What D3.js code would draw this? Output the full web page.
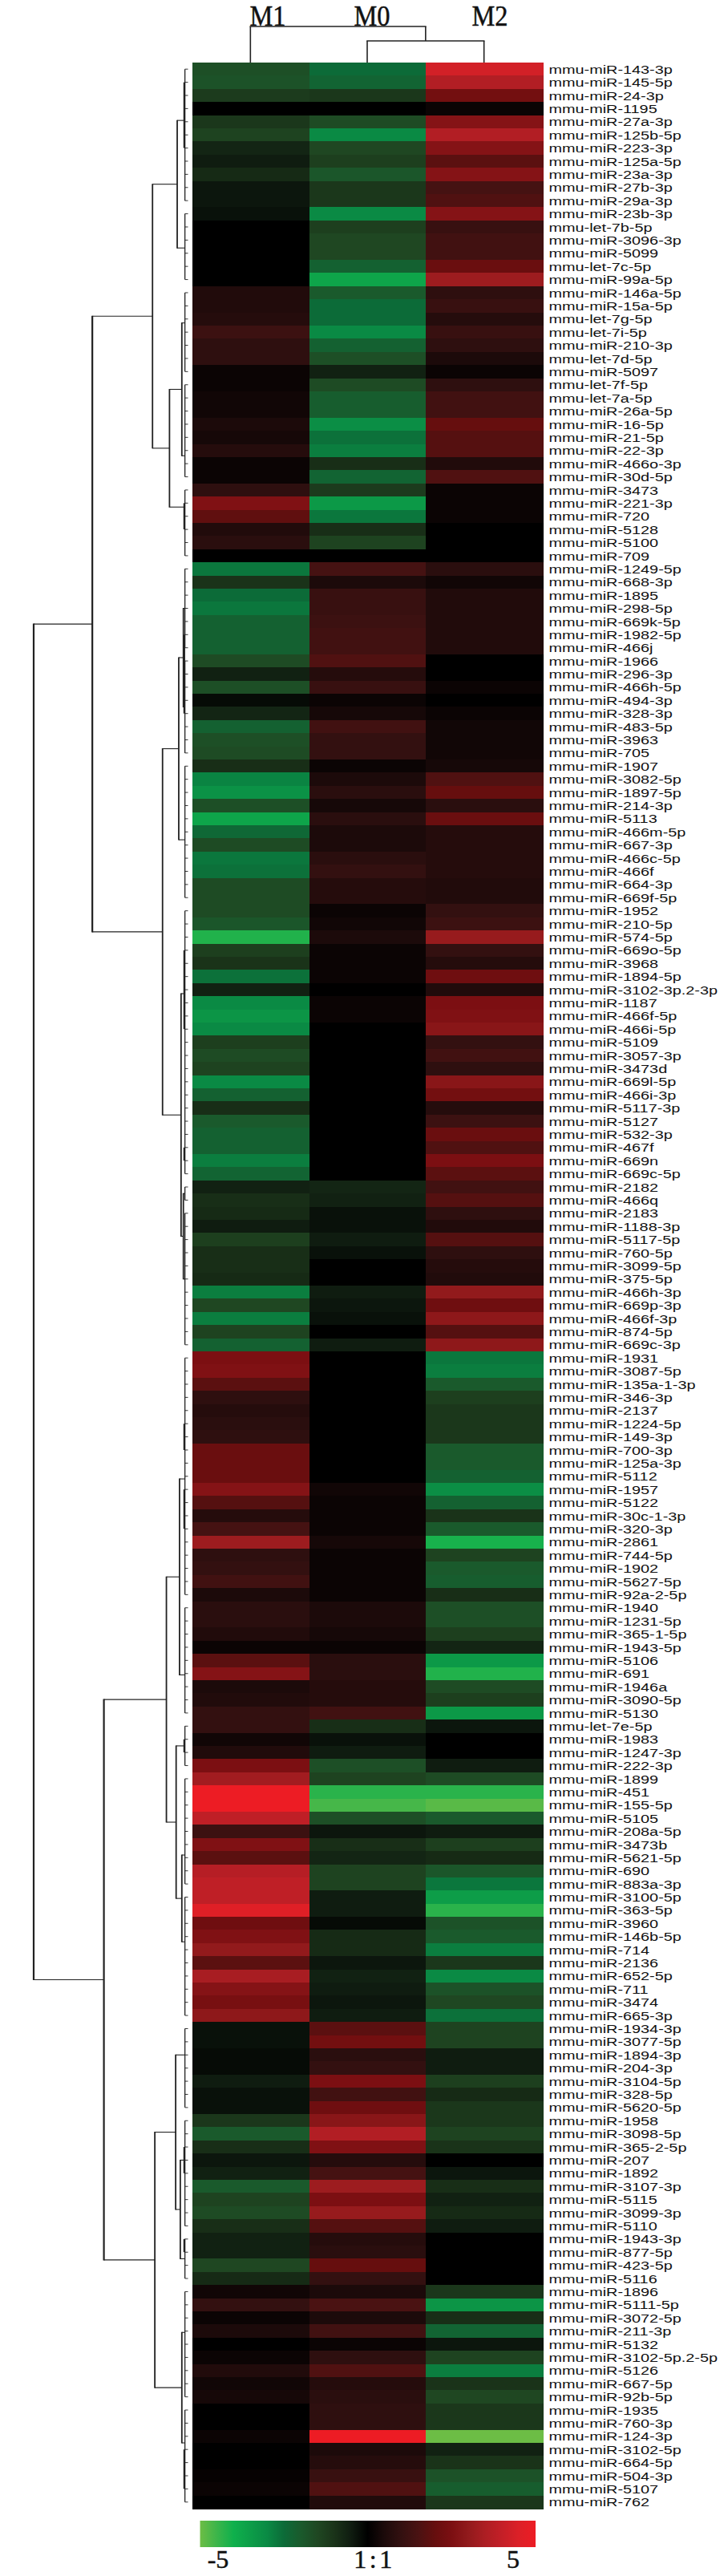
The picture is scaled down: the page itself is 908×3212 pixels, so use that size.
<!DOCTYPE html>
<html>
<head>
<meta charset="utf-8">
<script src="https://cdn.jsdelivr.net/npm/d3@7"></script>
<style>html,body{margin:0;padding:0;background:#fff}svg{display:block}</style>
</head>
<body>
<div id="chart"></div>
<script>
const mirs = ["miR-143-3p","miR-145-5p","miR-24-3p","miR-1195","miR-27a-3p","miR-125b-5p","miR-223-3p","miR-125a-5p","miR-23a-3p","miR-27b-3p","miR-29a-3p","miR-23b-3p","let-7b-5p","miR-3096-3p","miR-5099","let-7c-5p","miR-99a-5p","miR-146a-5p","miR-15a-5p","let-7g-5p","let-7i-5p","miR-210-3p","let-7d-5p","miR-5097","let-7f-5p","let-7a-5p","miR-26a-5p","miR-16-5p","miR-21-5p","miR-22-3p","miR-466o-3p","miR-30d-5p","miR-3473","miR-221-3p","miR-720","miR-5128","miR-5100","miR-709","miR-1249-5p","miR-668-3p","miR-1895","miR-298-5p","miR-669k-5p","miR-1982-5p","miR-466j","miR-1966","miR-296-3p","miR-466h-5p","miR-494-3p","miR-328-3p","miR-483-5p","miR-3963","miR-705","miR-1907","miR-3082-5p","miR-1897-5p","miR-214-3p","miR-5113","miR-466m-5p","miR-667-3p","miR-466c-5p","miR-466f","miR-664-3p","miR-669f-5p","miR-1952","miR-210-5p","miR-574-5p","miR-669o-5p","miR-3968","miR-1894-5p","miR-3102-3p.2-3p","miR-1187","miR-466f-5p","miR-466i-5p","miR-5109","miR-3057-3p","miR-3473d","miR-669l-5p","miR-466i-3p","miR-5117-3p","miR-5127","miR-532-3p","miR-467f","miR-669n","miR-669c-5p","miR-2182","miR-466q","miR-2183","miR-1188-3p","miR-5117-5p","miR-760-5p","miR-3099-5p","miR-375-5p","miR-466h-3p","miR-669p-3p","miR-466f-3p","miR-874-5p","miR-669c-3p","miR-1931","miR-3087-5p","miR-135a-1-3p","miR-346-3p","miR-2137","miR-1224-5p","miR-149-3p","miR-700-3p","miR-125a-3p","miR-5112","miR-1957","miR-5122","miR-30c-1-3p","miR-320-3p","miR-2861","miR-744-5p","miR-1902","miR-5627-5p","miR-92a-2-5p","miR-1940","miR-1231-5p","miR-365-1-5p","miR-1943-5p","miR-5106","miR-691","miR-1946a","miR-3090-5p","miR-5130","let-7e-5p","miR-1983","miR-1247-3p","miR-222-3p","miR-1899","miR-451","miR-155-5p","miR-5105","miR-208a-5p","miR-3473b","miR-5621-5p","miR-690","miR-883a-3p","miR-3100-5p","miR-363-5p","miR-3960","miR-146b-5p","miR-714","miR-2136","miR-652-5p","miR-711","miR-3474","miR-665-3p","miR-1934-3p","miR-3077-5p","miR-1894-3p","miR-204-3p","miR-3104-5p","miR-328-5p","miR-5620-5p","miR-1958","miR-3098-5p","miR-365-2-5p","miR-207","miR-1892","miR-3107-3p","miR-5115","miR-3099-3p","miR-5110","miR-1943-3p","miR-877-5p","miR-423-5p","miR-5116","miR-1896","miR-5111-5p","miR-3072-5p","miR-211-3p","miR-5132","miR-3102-5p.2-5p","miR-5126","miR-667-5p","miR-92b-5p","miR-1935","miR-760-3p","miR-124-3p","miR-3102-5p","miR-664-5p","miR-504-3p","miR-5107","miR-762"];

const M1 = [-1.7,-1.8,-1.2,0,-1.1,-1.4,-.7,-.5,-.8,-.4,-.4,-.3,0,0,0,0,0,.6,.6,.7,1.2,.9,.9,.2,.2,.3,.3,.5,.4,.7,.2,.2,.9,2.6,1.9,.6,.8,0,
 -2.7,-1,-2.5,-2.7,-2.2,-2.2,-2.2,-1.6,-.6,-1.7,-.2,-.7,-2.2,-1.7,-1.6,-.9,-2.9,-3.2,-1.7,-3.7,-2.4,-1.6,-2.7,-2.6,-1.6,-1.6,-1.6,-1.9,-4.2,-1.3,-1,-2.6,-.6,-3,-3.3,-3,-1.3,-1.6,-1.4,-3,-2.2,-.9,-2,-2.2,-2.2,-2.8,-2.3,
 -.6,-.9,-.8,-.5,-1.3,-.9,-.9,-.8,-2.8,-1.5,-2.8,-1.4,-2.2,
 2.5,2.6,1.8,.9,.7,.8,.9,2.1,2.1,2.1,2.7,1.7,.7,1.4,3.2,.9,1,1.3,.5,.8,.8,.6,.2,1.8,2.7,.5,.6,1,1,.3,.6,2.5,3.3,5,5,3.9,1.2,2.6,1.8,3.7,3.9,3.9,4.6,2.2,2.6,3,1.8,3.4,2.7,2.4,2.9,
 -.3,-.3,-.2,-.2,-.5,-.3,-.3,-1.1,-2,-.9,-.4,-.6,-2,-1.4,-1.6,-.9,-.6,-.6,-1.5,-.8,.3,1,.2,.5,0,.2,.6,.3,.4,0,0,.2,0,0,.1,.2,0];

const M0 = [-2.5,-2.3,-1.1,0,-1.6,-3,-1.5,-1.3,-1.9,-1.1,-1.1,-3,-1.3,-1.5,-1.5,-2.2,-3.7,-2,-2.5,-2.5,-3,-2.2,-1.7,-.6,-1.6,-2.1,-2.1,-3.1,-2.6,-2.8,-.9,-2.3,-1.2,-3.4,-2.7,-.9,-1.4,0,
 1.4,.5,1.1,1.1,1.2,1.3,1.3,1.6,.7,1.1,.2,.4,1.3,1,1,.2,.5,.8,.4,.8,.5,.5,.8,1,.7,.7,.2,.3,.5,.2,.2,.2,0,.2,.2,0,0,0,0,0,0,0,0,0,0,0,0,
 -.7,-.6,-.3,-.3,-.5,-.3,0,0,-.5,-.4,-.3,0,-.5,
 0,0,0,0,0,0,0,0,0,0,.3,.2,.2,.2,.4,.2,.2,.2,.2,.5,.5,.4,.2,.8,.8,.7,.7,1.3,-.9,-.3,-.5,-1.7,-1.4,-4.3,-4.6,-1.7,-.4,-.9,-.7,-1.4,-1.4,-.5,-.5,-.2,-.8,-.8,-.4,-.6,-.5,-.4,-.5,
 1.8,2.3,.8,1,2.5,1.3,2.2,2.8,3.6,2.6,.7,1.4,3.2,2.5,3.1,1.7,.7,.8,2,1,.5,1.5,.5,1.3,.2,.9,1.6,.7,.8,.9,.9,5,.5,.7,1.1,1.6,.6];

const M2 = [4.3,3.6,2.3,.2,2.7,3.6,2.7,1.8,2.7,1.4,1.6,2.7,1.1,1.3,1.3,2.1,3.2,.9,1.1,.7,1.1,.9,.5,.2,.9,1.3,1.3,2,1.7,1.7,.6,1.6,.2,.2,.2,0,0,0,
 .8,.3,.6,.6,.6,.6,.6,0,0,.2,0,.2,.3,.3,.3,.4,1.6,2,.8,2.1,.7,.7,.7,.7,.6,.6,1,1.2,3.1,1,.7,2.2,.6,2.5,2.6,2.8,1,1.3,.9,2.8,2.3,.7,1.2,2.1,1.6,2.5,1.8,
 1.3,1.7,.9,.6,1.7,.9,.7,.6,3,2.2,2.9,1.7,2.9,
 -2.7,-2.8,-2,-1.3,-1.1,-1.1,-1.1,-2,-2,-2.2,-3.1,-2.2,-1,-2,-4.1,-1.4,-2,-2.1,-.9,-1.7,-1.7,-1.3,-.7,-3.4,-4.2,-1.6,-1.3,-3.4,-.4,0,0,-.5,-1.6,-4.3,-4.8,-2,-.5,-1.3,-.8,-1.9,-2.7,-3.5,-4.3,-1.8,-2,-2.8,-1.1,-3,-1.8,-1.5,-2.6,
 -1.4,-1.4,-.5,-.5,-1.3,-.8,-1.1,-1.1,-1.4,-1,0,-.4,-.9,-.6,-.8,-.5,0,0,0,0,-1.1,-3.3,-.9,-2.3,-.4,-1.4,-2.8,-1,-1.5,-1.1,-1.1,-5,-.6,-1,-1.8,-2.1,-1.1];

const columns = ["M1","M0","M2"];
const columnValues = {M1, M0, M2};
const colorbarTicks = [["-5",-5],["1:1",0],["5",5]];

const colorStops = [-5,-4.5,-4,-3,-2.5,-2,-1.5,-1,-.5,0,.5,1,1.5,2,2.5,3,3.5,4,4.5,5];
const colorValues = ["#6cbd45","#3cb54a","#0fb04c","#0a8a44","#0c6b38","#1a5a2c","#1f4722","#1a3319","#0f1c10","#000000","#1c0a0a","#331010","#4a1212","#660e0e","#7c0f12","#921a1c","#ad1e23","#c41f27","#dc2027","#ed1c24"];

// row dendrogram: leaf brackets [firstRow, lastRow, joinRow], heights as share of root distance
const n = (h, ...children) => ({h, children});
const leaf = (first, last, at) => ({h: .02, first, last, at});
const rowTree = n(1,
  n(.62,
    n(.23,
      n(.07, leaf(1,11,4.9), leaf(12,17,14.6)),
      n(.12,
        n(.04, leaf(18,24,20.3), leaf(25,32,30.4)),
        leaf(33,38,34.3))),
    n(.165,
      n(.06,
        n(.03, leaf(39,45,42), leaf(46,53,49.5)),
        leaf(54,64,59.6)),
      n(.045,
        leaf(65,85,71.3),
        n(.03, leaf(86,87,86.5), leaf(88,98,93))))),
  n(.545,
    n(.14,
      n(.055, leaf(99,117,108.2), leaf(118,126,123.1)),
      n(.077,
        leaf(127,130,128.5),
        n(.04, leaf(131,139,136.8), leaf(140,149,143.4)))),
    n(.215,
      n(.08,
        leaf(150,156,152),
        n(.05, leaf(157,165,160), leaf(166,169,167.5))),
      n(.04, leaf(170,178,173.1), leaf(179,186,181.5)))));
const thickRuns = [[2,7],[34,36],[44,50],[68,74],[83,84],[104,106],[109,112],[128,129],[159,161],[166,167],[182,185]];

const colTree = {h:1, children:[{h:0,col:"M1"},{h:.6,children:[{h:0,col:"M0"},{h:0,col:"M2"}]}]};

const W = 908, H = 3212;
const svg = d3.select("#chart").append("svg").attr("width",W).attr("height",H).attr("viewBox",`0 0 ${W} ${H}`);

const x = d3.scaleBand().domain(columns).range([240,677]);
const y = d3.scaleBand().domain(d3.range(1,mirs.length+1)).range([78,3128]);
const color = d3.scaleLinear().domain(colorStops).range(colorValues).clamp(true);
const rowY = r => y(1) + (r - .5) * y.step();
const hx = d3.scaleLinear().domain([0,1]).range([234.5,42]);
const hy = d3.scaleLinear().domain([0,1]).range([78,33]);

// cells
const heat = svg.append("g").attr("shape-rendering","crispEdges");
columns.forEach(c => {
  heat.selectAll(null).data(columnValues[c]).join("rect")
    .attr("x",x(c)).attr("width",x.bandwidth()+.5)
    .attr("y",(d,i)=>y(i+1)).attr("height",y.bandwidth()+.5)
    .attr("fill",d=>color(d));
});

// row labels
svg.append("g").selectAll("text").data(mirs).join("text")
  .attr("transform",(d,i)=>`translate(684.5,${rowY(i+1)+5.6}) scale(1.28,1)`)
  .attr("font-family","'Liberation Sans',Arial,sans-serif").attr("font-size",15.5).attr("fill","#111")
  .text(d=>"mmu-"+d);

// row dendrogram
const dg = svg.append("g").attr("fill","none").attr("stroke","#222");
function vLine(px,a,b,w){dg.append("line").attr("x1",px).attr("x2",px).attr("y1",a).attr("y2",b).attr("stroke-width",w)}
function hLine(a,b,py,w){dg.append("line").attr("x1",a).attr("x2",b).attr("y1",py).attr("y2",py).attr("stroke-width",w)}
function drawRow(node){
  const px = hx(node.h);
  if(node.children){
    const ys = node.children.map(drawRow);
    vLine(px,ys[0]-.5,ys[1]+.5,node.h>.4?2.2:1.8);
    node.children.forEach((c,i)=>hLine(px,hx(c.h),ys[i],1.1));
    return (ys[0]+ys[1])/2;
  }
  vLine(px,rowY(node.first),rowY(node.last),1.3);
  d3.range(node.first,node.last+1).forEach(r=>hLine(px,hx(0),rowY(r),.9));
  return rowY(node.at);
}
drawRow(rowTree);
thickRuns.forEach(([a,b])=>vLine(hx(.02)-.8,rowY(a),rowY(b),2.2));

// column dendrogram
function drawCol(node){
  if(node.col) return x(node.col)+x.bandwidth()/2-.5;
  const xs = node.children.map(drawCol);
  const py = hy(node.h);
  hLine(xs[0]-.8,xs[1]+.8,py,1.6);
  node.children.forEach((c,i)=>vLine(xs[i],py,hy(c.h),1.6));
  return (xs[0]+xs[1])/2;
}
drawCol(colTree);

// column titles
const titleCentres = {M1:334,M0:464,M2:611};
svg.append("g").selectAll("text").data(columns).join("text")
  .attr("x",d=>titleCentres[d]).attr("y",32).attr("text-anchor","middle")
  .attr("font-family","'Liberation Serif','Times New Roman',serif").attr("font-size",36).attr("fill","#111")
  .attr("stroke","#111").attr("stroke-width",.5)
  .attr("textLength",45).attr("lengthAdjust","spacingAndGlyphs")
  .text(d=>d);

// colour bar
const cb = d3.scaleLinear().domain([-5,5]).range([249.5,668]);
const defs = svg.append("defs");
const grad = defs.append("linearGradient").attr("id","cbar").attr("x1","0%").attr("x2","100%");
grad.selectAll("stop").data(colorStops).join("stop")
  .attr("offset",d=>((d+5)/10*100)+"%").attr("stop-color",d=>color(d));
svg.append("rect").attr("x",cb(-5)).attr("width",cb(5)-cb(-5)).attr("y",3143).attr("height",33).attr("fill","url(#cbar)");
const tickX = {"-5":272,"1:1":467,"5":640};
svg.append("g").selectAll("text").data(colorbarTicks).join("text")
  .attr("x",d=>tickX[d[0]]).attr("y",3202).attr("text-anchor","middle")
  .attr("font-family","'Liberation Serif','Times New Roman',serif").attr("font-size",32).attr("fill","#111")
  .attr("stroke","#111").attr("stroke-width",.5)
  .attr("letter-spacing",d=>d[0]==="1:1"?3.5:0)
  .text(d=>d[0]);
</script>
</body>
</html>
